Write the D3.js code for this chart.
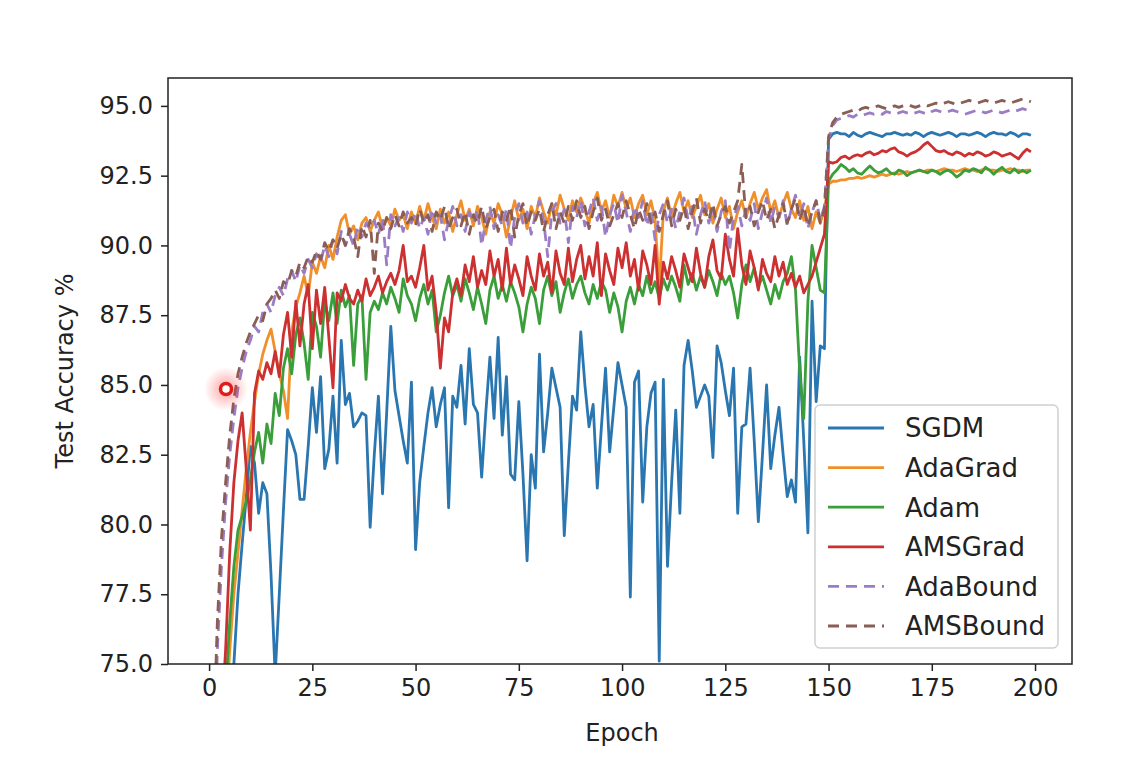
<!DOCTYPE html>
<html lang="en">
<head>
    <meta charset="UTF-8">
    <title>Test Accuracy</title>
    <script src="https://cdn.jsdelivr.net/npm/d3@7"></script>
    <style>
        body {
            margin: 0;
            background: white;
        }
        svg {
            display: block;
        }
        text {
            font-family: "DejaVu Sans", sans-serif;
            fill: #222;
        }
        .tick line {
            stroke: #222;
        }
        .domain {
            display: none;
        }
    </style>
</head>
<body>
    <script>
        // series values, one per epoch (0..199)
        const sgdm = [
            50, 57, 62, 66, 69.5, 72.5, 75.0, 77.5, 79.3, 81.0,
            82.8, 82.2, 80.4, 81.5, 81.1, 78.2, 74.6, 77.5, 80.5, 83.4,
            83.0, 82.5, 80.9, 80.9, 82.8, 84.9, 83.3, 85.3, 82.0, 82.7,
            84.6, 82.2, 86.6, 84.3, 84.7, 83.5, 83.7, 84.0, 83.9, 79.9,
            82.5, 84.6, 81.1, 84.0, 87.1, 84.8, 83.9, 83.0, 82.2, 85.1,
            79.1, 81.5, 82.8, 84.0, 84.9, 83.5, 84.3, 84.9, 80.6, 84.6,
            84.2, 85.7, 83.6, 86.3, 84.3, 84.0, 81.7, 84.0, 86.0, 83.8,
            86.7, 83.2, 85.3, 81.8, 81.6, 84.4, 81.8, 78.7, 82.5, 81.3,
            86.1, 82.6, 84.0, 85.6, 84.9, 84.2, 79.6, 82.2, 84.6, 84.1,
            86.9, 85.0, 83.5, 84.3, 81.3, 83.5, 85.6, 82.6, 84.2, 85.8,
            85.0, 84.2, 77.4, 85.1, 85.5, 80.8, 83.5, 84.7, 85.1, 75.1,
            85.2, 78.5, 81.5, 84.1, 80.4, 85.7, 86.6, 85.5, 84.2, 84.6,
            85.0, 84.6, 82.4, 86.4, 85.8, 84.8, 83.9, 85.6, 80.4, 83.5,
            83.6, 85.6, 83.0, 80.1, 82.5, 85.0, 82.0, 83.2, 84.2, 82.5,
            81.0, 81.6, 80.8, 86.0, 83.0, 79.7, 88.0, 84.4, 86.4, 86.3,
            93.8, 94.0, 94.05, 94.0, 94.0, 93.9, 94.05, 93.95, 93.9, 94.0,
            94.05, 94.0, 93.95, 93.9, 94.0, 94.0, 94.05, 94.0, 93.95, 94.0,
            93.95, 94.05, 94.0, 93.9, 94.0, 94.05, 94.0, 93.95, 94.0, 94.05,
            94.0, 93.9, 94.0, 94.0, 93.95, 94.0, 94.05, 94.0, 93.9, 94.0,
            94.05, 94.0, 94.0, 93.95, 94.05, 94.0, 93.9, 94.0, 94.0, 93.95
        ];
        const adagrad = [
            58, 64, 68, 71, 73, 75.5, 77.5, 79.0, 80.5, 82.0,
            83.3, 84.4, 85.4, 86.1, 86.6, 87.0, 86.2, 85.4, 84.8, 83.8,
            86.9, 87.8, 88.3, 88.9, 88.2, 89.4, 89.0, 89.6, 89.2, 90.0,
            89.5, 90.3, 90.9, 91.1, 90.4, 90.7, 90.2, 90.8, 91.0, 90.5,
            90.9, 91.2, 90.6, 91.0, 90.7, 91.3, 90.9, 91.1, 90.6, 91.2,
            90.8, 91.4, 90.9, 91.5, 91.0, 90.6, 91.3, 90.8, 91.2, 90.5,
            91.1, 91.6, 90.9, 91.3, 90.7, 91.4, 91.0, 90.4, 91.2, 90.8,
            91.5, 91.1, 90.3, 91.0, 91.6, 90.9, 91.3, 90.6, 91.4, 91.0,
            91.7, 91.2, 90.8, 91.5, 91.1, 91.8, 91.3, 90.9, 91.6, 91.2,
            91.7, 91.3, 90.8, 91.5, 91.9, 91.2, 91.6, 91.0, 91.8, 91.4,
            91.9, 91.3, 91.7, 91.0, 91.5, 91.8, 91.1, 91.6, 90.9, 88.5,
            91.2, 91.7, 91.0, 91.5, 91.9, 91.2, 91.6, 91.0, 91.4, 91.8,
            91.1, 91.5, 90.8, 91.3, 91.7, 91.0, 91.4, 90.6, 91.2, 91.6,
            91.0, 91.5, 91.9, 91.3, 91.7, 92.0, 91.2, 91.6, 91.0, 91.5,
            91.9, 91.3, 91.0, 91.6, 90.9, 91.4, 90.6, 91.2, 90.8, 91.3,
            92.2, 92.3, 92.3, 92.35, 92.35, 92.4, 92.4, 92.45, 92.4, 92.45,
            92.5, 92.45, 92.5, 92.55, 92.5, 92.55, 92.6, 92.55, 92.6, 92.65,
            92.6, 92.65, 92.7, 92.65, 92.7, 92.7, 92.65, 92.7, 92.75, 92.7,
            92.7, 92.65, 92.7, 92.75, 92.7, 92.7, 92.65, 92.7, 92.75, 92.7,
            92.7, 92.65, 92.7, 92.7, 92.75, 92.7, 92.7, 92.65, 92.7, 92.7
        ];
        const adam = [
            55, 62, 67, 71, 74, 76.5, 78.5, 79.8, 80.3, 80.8,
            81.6, 82.6, 83.3, 82.2, 83.6, 82.9, 84.7, 83.9, 85.6, 86.3,
            85.4, 86.8, 87.4, 86.5, 85.2, 87.6, 87.1, 86.0, 88.0, 87.3,
            88.3, 87.2, 88.4, 87.8, 88.2, 85.7, 87.9, 88.2, 85.2, 87.6,
            88.0, 87.7, 88.3, 87.9, 88.5, 88.1, 87.6, 88.8, 88.2, 87.9,
            87.3, 88.1, 88.6, 87.9, 88.4, 86.9, 87.5, 88.3, 88.9, 88.2,
            88.6, 88.0, 88.8, 88.3, 87.7, 88.5, 87.9, 87.2, 88.4, 88.9,
            88.1, 88.6, 88.0, 88.7, 88.3, 87.8, 86.9, 87.9, 88.5, 88.1,
            87.2, 88.4, 88.9, 88.2, 88.7, 87.6, 88.3, 88.8, 88.1, 88.6,
            88.9, 88.3, 87.9, 88.6, 88.1, 88.7, 88.4, 87.6, 88.3, 87.8,
            86.9, 88.0, 88.5, 87.9, 88.6, 88.2, 88.9, 88.3, 88.7, 88.1,
            88.8, 88.4, 88.9, 88.5, 88.0, 89.3, 88.6, 89.0, 88.4, 88.9,
            88.5, 89.1, 88.7, 88.2, 89.0, 88.6, 88.9, 88.3, 87.4, 88.6,
            89.3, 88.7, 89.2, 88.5, 88.9, 88.4, 87.9, 88.6, 88.1, 88.7,
            89.0, 89.6, 88.4, 85.5, 83.8, 88.0, 90.0, 89.2, 88.4, 88.3,
            92.3, 92.55, 92.7, 92.9, 92.8, 92.65, 92.75, 92.6, 92.55, 92.7,
            92.85, 92.7, 92.6, 92.65, 92.75, 92.6, 92.55, 92.7, 92.65, 92.5,
            92.6, 92.65, 92.7, 92.65, 92.6, 92.7, 92.65, 92.55, 92.65, 92.7,
            92.6, 92.45, 92.55, 92.7, 92.65, 92.75, 92.7, 92.6, 92.8, 92.7,
            92.55, 92.7, 92.8, 92.65, 92.6, 92.75, 92.6, 92.7, 92.6, 92.7
        ];
        const amsgrad = [
            60, 66, 70, 73, 75.5, 79.0, 81.5, 83.0, 84.0, 82.0,
            79.8, 84.7, 85.5, 85.2, 85.8, 85.4, 86.2, 85.3, 86.8, 87.6,
            86.0, 88.0, 86.4, 87.9, 88.6, 86.3, 88.4, 87.2, 88.5, 86.7,
            84.9, 88.3, 88.0, 88.6, 88.1, 87.9, 88.4, 88.0, 88.8, 88.2,
            88.5, 88.9, 88.3, 88.7, 89.0, 88.6, 89.1, 90.0, 88.7, 88.9,
            88.5, 89.2, 90.0, 88.4, 88.9, 87.6, 85.6, 87.4, 86.9, 88.3,
            88.8, 88.2, 89.3, 88.7, 89.6, 88.5, 89.1, 88.6, 89.8, 88.9,
            89.5, 88.4, 89.9, 88.6, 89.3, 88.8, 88.2, 89.6, 88.9, 88.4,
            89.7, 88.9, 89.4, 88.3, 89.8, 89.0, 88.6, 89.9, 88.7, 89.5,
            90.0, 88.8, 89.6, 88.9, 90.1, 88.2, 89.7, 89.1, 88.6, 89.9,
            89.2, 90.1, 88.9, 89.5, 88.4, 89.8, 89.3, 88.6, 90.0, 87.9,
            89.4, 88.8, 89.6, 89.1, 88.5, 89.7, 89.2, 88.7, 89.9, 89.0,
            88.5, 89.6, 90.2, 89.1, 88.8, 90.4, 89.5, 88.9, 90.6, 89.3,
            88.6, 89.8, 89.2, 88.4, 89.5, 89.0, 88.7, 89.6, 88.9, 89.4,
            88.6, 89.0, 88.5, 88.9, 88.3, 88.6, 88.9, 89.4, 89.9, 90.4,
            93.0, 92.95, 93.0, 93.15, 93.2, 93.1, 93.2, 93.25, 93.2, 93.3,
            93.35, 93.25, 93.3, 93.4, 93.35, 93.45, 93.5, 93.35, 93.3, 93.2,
            93.3, 93.35, 93.45, 93.6, 93.7, 93.55, 93.4, 93.35, 93.4, 93.3,
            93.25, 93.35, 93.3, 93.2, 93.3, 93.25, 93.35, 93.3, 93.2, 93.25,
            93.35, 93.3, 93.2, 93.25, 93.3, 93.2, 93.1, 93.3, 93.45, 93.35
        ];
        const adabound = [
            62, 70, 75.5, 78.5, 80.8, 82.5, 83.8, 84.9, 85.6, 86.2,
            86.6, 87.1, 86.9, 87.6, 87.9, 87.6, 88.2, 88.5, 88.2, 88.8,
            89.1, 88.7, 89.3, 89.0, 89.5, 89.2, 89.7, 89.4, 90.0, 89.6,
            90.2, 89.7, 90.5, 90.0, 90.4, 90.0, 90.7, 90.3, 90.8, 90.6,
            90.9, 90.4, 91.0, 89.3, 91.1, 90.7, 91.0, 90.5, 91.2, 90.8,
            91.2, 90.6, 91.0, 90.4, 91.3, 90.8, 91.1, 90.2, 90.9, 91.4,
            90.7, 91.1, 90.5, 91.2, 90.8, 91.3, 90.0, 90.9, 91.4, 90.6,
            91.1, 90.7, 91.3, 89.9, 91.0, 91.5, 90.8, 91.2, 90.4, 91.1,
            91.6, 90.9, 89.6, 91.2, 91.5, 90.8, 91.3, 90.1, 91.4, 91.0,
            91.6, 90.7, 91.2, 91.7, 90.9, 91.4, 90.3, 91.1, 91.5, 90.8,
            91.8, 91.2, 90.5, 91.4, 91.0, 91.6, 90.7, 91.3, 90.2, 91.1,
            91.5, 90.8, 91.3, 90.6, 91.2, 91.7, 90.9, 91.4, 90.4, 91.1,
            91.6, 90.8, 91.3, 90.5, 91.2, 91.6, 89.8, 91.0, 91.4, 90.7,
            91.3, 90.9, 91.5, 90.6, 91.2, 91.7, 90.8, 91.4, 91.0, 91.6,
            90.7, 91.3, 91.8, 91.0, 91.5, 90.6, 91.2, 91.6, 90.9, 91.4,
            93.8, 94.3, 94.5, 94.55, 94.6, 94.65, 94.6, 94.7, 94.65, 94.7,
            94.75, 94.7, 94.75, 94.7, 94.8, 94.75, 94.7, 94.75, 94.8, 94.75,
            94.7, 94.75, 94.8, 94.75, 94.7, 94.8, 94.85, 94.8, 94.75, 94.8,
            94.85, 94.8, 94.75, 94.7, 94.75, 94.8, 94.85, 94.8, 94.75, 94.8,
            94.85, 94.8, 94.75, 94.8, 94.85, 94.8, 94.85, 94.9, 94.85, 94.9
        ];
        const amsbound = [
            64, 72, 76.5, 79.5, 81.5, 83.2, 84.5, 85.4, 86.0, 86.5,
            86.9, 87.2, 87.5, 87.3, 87.9, 88.1, 88.4, 88.1, 88.7, 88.6,
            89.1, 88.9, 89.4, 89.2, 89.6, 89.4, 89.8, 89.5, 90.1, 89.8,
            90.2, 89.9, 90.4, 90.0, 90.6, 90.3, 89.6, 90.7, 90.3, 90.9,
            89.0, 90.8, 90.5, 91.0, 90.6, 91.1, 90.7, 91.2, 90.8, 91.0,
            90.7, 91.3, 90.8, 91.1, 90.5, 91.2, 90.9, 91.4, 90.6, 91.0,
            91.3, 90.7, 91.2, 90.4, 91.1, 90.8, 91.4, 90.6, 91.0, 91.3,
            90.5, 91.2, 90.9, 91.4, 90.3, 91.1, 91.5, 90.7, 91.2, 90.9,
            91.3, 90.5, 91.1, 91.5, 90.6, 91.2, 90.8, 91.4, 90.9, 91.6,
            91.0, 91.4, 90.6, 91.2, 91.7, 90.9, 91.3, 90.7, 91.1, 91.5,
            91.0, 91.6, 91.1, 90.6, 91.3, 90.9, 91.5, 90.8, 91.2, 90.5,
            91.1, 91.6, 90.7, 91.3, 90.9, 91.4, 90.6, 91.2, 91.7, 90.8,
            91.3, 90.9, 91.5, 90.7, 91.1, 91.4, 90.8, 91.2, 91.6, 92.9,
            91.0, 91.4, 90.7, 91.2, 91.6, 90.9, 91.3, 90.6, 91.1, 91.5,
            90.8, 91.3, 91.7, 90.9, 91.4, 90.7, 91.2, 91.6, 90.8, 91.3,
            93.9, 94.4, 94.6, 94.7, 94.75, 94.8, 94.85, 94.8, 94.9, 94.95,
            94.9, 94.95, 95.0, 94.95, 94.9, 94.95, 95.0, 94.95, 95.0, 95.05,
            95.0, 94.95, 95.0, 95.05, 95.0, 95.05, 95.1, 95.05, 95.1, 95.15,
            95.1, 95.05, 95.1, 95.15, 95.2, 95.15, 95.1, 95.15, 95.2, 95.15,
            95.1, 95.15, 95.2, 95.15, 95.1, 95.15, 95.2, 95.25, 95.2, 95.15
        ];

        const names = ["SGDM", "AdaGrad", "Adam", "AMSGrad", "AdaBound", "AMSBound"];
        const colors = ["#2a76b0", "#f0902a", "#3a9e3a", "#cc3030", "#9a7dc4", "#8a5d55"];
        const dashed = [false, false, false, false, true, true];
        const xTicks = [0, 25, 50, 75, 100, 125, 150, 175, 200];
        const yTicks = [75, 77.5, 80, 82.5, 85, 87.5, 90, 92.5, 95];

        const allSeries = [sgdm, adagrad, adam, amsgrad, adabound, amsbound];

        const width = 1142;
        const height = 764;
        const margin = { left: 168, right: 70, top: 78, bottom: 100 };

        let svg = d3.select("body").append("svg")
            .attr("width", width)
            .attr("height", height);

        const x = d3.scaleLinear()
            .domain([-9.95, 208.95])
            .range([margin.left, width - margin.right]);
        const y = d3.scaleLinear()
            .domain([75, 96])
            .range([height - margin.bottom, margin.top]);

        //clip for the plotting area
        svg.append("clipPath").attr("id", "plotClip")
            .append("rect")
            .attr("x", margin.left)
            .attr("y", margin.top)
            .attr("width", width - margin.left - margin.right)
            .attr("height", height - margin.top - margin.bottom);

        //axes
        let gx = svg.append("g")
            .attr("transform", `translate(0,${height - margin.bottom})`)
            .call(d3.axisBottom(x).tickValues(xTicks).tickSize(7).tickPadding(8));
        let gy = svg.append("g")
            .attr("transform", `translate(${margin.left},0)`)
            .call(d3.axisLeft(y).tickValues(yTicks).tickFormat(d3.format(".1f")).tickSize(7).tickPadding(8));
        svg.selectAll(".tick text").style("font-size", "24px");
        svg.selectAll(".tick line").attr("stroke-width", 1.5);

        //lines
        const line = d3.line()
            .x((d, i) => x(i))
            .y(d => y(d));

        let gLines = svg.append("g").attr("clip-path", "url(#plotClip)");
        gLines.selectAll("path")
            .data(allSeries)
            .enter()
            .append("path")
            .attr("d", d => line(d))
            .attr("fill", "none")
            .attr("stroke", (d, i) => colors[i])
            .attr("stroke-width", 2.8)
            .attr("stroke-linejoin", "round")
            .attr("stroke-dasharray", (d, i) => dashed[i] ? "11,7" : null);

        //frame
        svg.append("rect")
            .attr("x", margin.left)
            .attr("y", margin.top)
            .attr("width", width - margin.left - margin.right)
            .attr("height", height - margin.top - margin.bottom)
            .attr("fill", "none")
            .attr("stroke", "#222")
            .attr("stroke-width", 1.5);

        //axis labels
        svg.append("text")
            .attr("x", x(100))
            .attr("y", 741)
            .attr("text-anchor", "middle")
            .style("font-size", "24px")
            .text("Epoch");
        svg.append("text")
            .attr("transform", `translate(73,${y(85.5)}) rotate(-90)`)
            .attr("text-anchor", "middle")
            .style("font-size", "24px")
            .text("Test Accuracy %");

        //legend
        let legend = svg.append("g").attr("transform", "translate(815,405)");
        legend.append("rect")
            .attr("width", 243)
            .attr("height", 243)
            .attr("rx", 5)
            .attr("fill", "white")
            .attr("fill-opacity", 0.85)
            .attr("stroke", "#d0d0d0")
            .attr("stroke-width", 1.5);
        let items = legend.selectAll(".item")
            .data(names)
            .enter()
            .append("g")
            .attr("transform", (d, i) => `translate(0,${23 + i * 39.6})`);
        items.append("line")
            .attr("x1", 13).attr("x2", 69)
            .attr("stroke", (d, i) => colors[i])
            .attr("stroke-width", 2.8)
            .attr("stroke-dasharray", (d, i) => dashed[i] ? "11,7" : null);
        items.append("text")
            .attr("x", 90)
            .attr("dy", "0.36em")
            .style("font-size", "26px")
            .text(d => d);

        //red cursor highlight from the recording
        let glow = svg.append("defs").append("radialGradient").attr("id", "glow");
        glow.append("stop").attr("offset", "0%").attr("stop-color", "#ff3030").attr("stop-opacity", 0.45);
        glow.append("stop").attr("offset", "100%").attr("stop-color", "#ff3030").attr("stop-opacity", 0);
        svg.append("circle").attr("cx", 226).attr("cy", 389).attr("r", 22).attr("fill", "url(#glow)");
        svg.append("circle").attr("cx", 226).attr("cy", 389).attr("r", 5.5)
            .attr("fill", "white").attr("stroke", "#e01b1b").attr("stroke-width", 3.5);
    </script>
</body>
</html>
